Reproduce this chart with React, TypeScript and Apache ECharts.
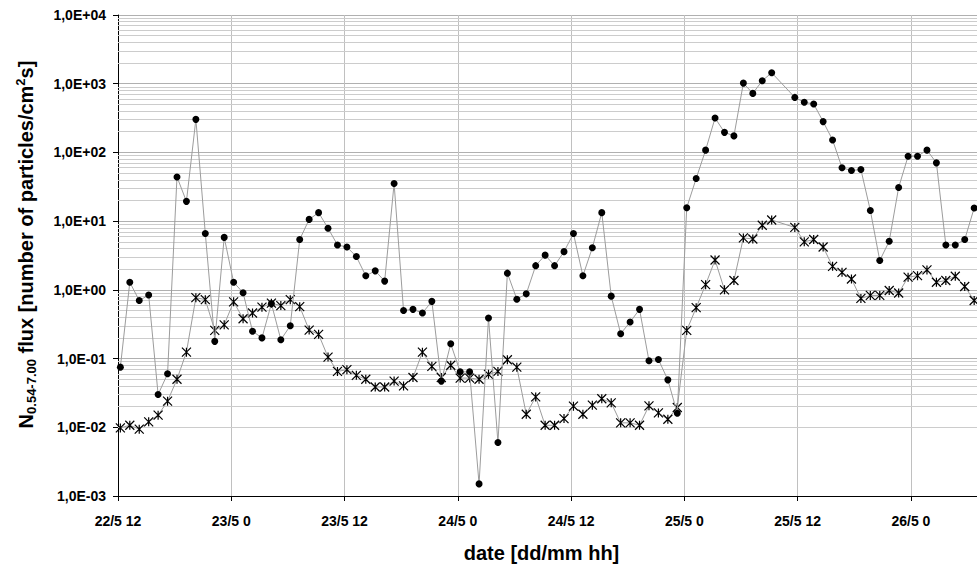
import React, { useEffect, useRef } from "react";
import * as echarts from "echarts";

// Sample times: hourly points in two runs, in hours after 22/5 12:00
const runStartHours = [0.25, 71.7];

// N 0.54-7.00 flux, circle series
const circleRun1 = [
  0.075, 1.29, 0.7, 0.84, 0.03, 0.06, 44, 19.4, 303, 6.6,
  0.178, 5.8, 1.29, 0.91, 0.25, 0.2, 0.63, 0.188, 0.3, 5.4,
  10.6, 13.3, 7.9, 4.5, 4.2, 3.05, 1.6, 1.89, 1.34, 35.3,
  0.5, 0.52, 0.46, 0.68, 0.047, 0.164, 0.064, 0.064, 0.0015, 0.39,
  0.006, 1.75, 0.73, 0.875, 2.25, 3.2, 2.25, 3.6, 6.6, 1.6,
  4.1, 13.3, 0.81, 0.23, 0.34, 0.52, 0.093, 0.097, 0.049, 0.016,
  15.7, 41.8, 108, 317, 196, 174, 1020, 723, 1105, 1444,
];
const circleRun2 = [
  632, 537, 507, 281, 152, 59.7, 54.6, 56.4, 14.3, 2.67,
  5.1, 30.9, 88, 88, 108, 70.5, 4.5, 4.5, 5.4, 15.5,
];

// N 0.54-7.00 flux, star series
const starRun1 = [
  0.0098, 0.0107, 0.0094, 0.012, 0.015, 0.024, 0.05, 0.124, 0.77, 0.72,
  0.257, 0.31, 0.67, 0.38, 0.46, 0.56, 0.64, 0.59, 0.72, 0.57,
  0.26, 0.225, 0.105, 0.065, 0.069, 0.057, 0.05, 0.0386, 0.0386, 0.047,
  0.04, 0.053, 0.124, 0.077, 0.053, 0.08, 0.052, 0.052, 0.05, 0.059,
  0.065, 0.096, 0.075, 0.0155, 0.0277, 0.0107, 0.0107, 0.0134, 0.0203, 0.0155,
  0.021, 0.026, 0.0227, 0.0116, 0.0116, 0.0107, 0.0205, 0.0162, 0.0131, 0.0194,
  0.257, 0.55, 1.19, 2.72, 1.0, 1.37, 5.7, 5.5, 8.7, 10.4,
];
const starRun2 = [
  8.1, 5.0, 5.4, 4.2, 2.2, 1.8, 1.44, 0.75, 0.83, 0.83,
  0.98, 0.9, 1.53, 1.61, 1.95, 1.29, 1.37, 1.58, 1.12, 0.7,
];

const yMin = 0.001;
const yMax = 10000;
const xMaxHours = 91;
const xStepHours = 12;
const minorMultipliers = [2, 3, 4, 5, 6, 7, 8, 9];

const FONT = "'Liberation Sans', Arial, sans-serif";

function toPairs(runs: number[][]): [number, number][] {
  const out: [number, number][] = [];
  runs.forEach((run, r) => {
    run.forEach((v, i) => out.push([runStartHours[r] + i, v]));
  });
  return out;
}

function minorGridValues(): number[] {
  const vals: number[] = [];
  for (let e = Math.log10(yMin); e < Math.log10(yMax); e++) {
    for (const m of minorMultipliers) vals.push(m * Math.pow(10, e));
  }
  return vals;
}

function dateLabel(h: number): string {
  const total = 12 + h;
  const day = 22 + Math.floor(total / 24);
  const hour = total % 24;
  return `${day}/5 ${hour}`;
}

function sciLabel(v: number): string {
  const e = Math.round(Math.log10(v));
  return `1,0E${e < 0 ? "-" : "+"}${String(Math.abs(e)).padStart(2, "0")}`;
}

// asterisk marker: a cross with a vertical stroke through it
const starPath = "path://M0,0L10,10M10,0L0,10M5,0L5,10";

export default function App() {
  const ref = useRef<HTMLDivElement>(null);

  useEffect(() => {
    if (!ref.current) return;
    const chart = echarts.init(ref.current, undefined, { renderer: "svg" });
    const lineColor = "#9c9c9c";

    chart.setOption({
      animation: false,
      backgroundColor: "#ffffff",
      grid: { left: 118, right: -5, top: 15, bottom: 71, containLabel: false },
      xAxis: {
        type: "value",
        min: 0,
        max: xMaxHours,
        interval: xStepHours,
        name: "date [dd/mm hh]",
        nameLocation: "middle",
        nameGap: 47,
        nameTextStyle: {
          fontSize: 20,
          fontWeight: "bold",
          color: "#000",
          fontFamily: FONT,
          padding: [0, 12, 0, 0],
        },
        axisLine: { show: true, lineStyle: { color: "#000", width: 1 } },
        axisTick: { show: true, length: 5, lineStyle: { color: "#000" } },
        axisLabel: {
          fontSize: 14,
          fontWeight: "bold",
          color: "#000",
          fontFamily: FONT,
          margin: 18,
          showMaxLabel: false,
          formatter: (v: number) => (v % xStepHours === 0 ? dateLabel(v) : ""),
        },
        splitLine: { show: true, lineStyle: { color: "#c0c0c0", width: 1 } },
      },
      yAxis: {
        type: "log",
        logBase: 10,
        min: yMin,
        max: yMax,
        name:
          "{b|N}{sub|0.54-7.00}{b| flux [number of particles/cm}{sup|2}{b|s]}",
        nameLocation: "middle",
        nameRotate: 90,
        nameGap: 80,
        nameTextStyle: {
          fontSize: 20,
          fontWeight: "bold",
          color: "#000",
          fontFamily: FONT,
          padding: [0, 0, 0, 22],
          rich: {
            b: { fontSize: 20, fontWeight: "bold", fontFamily: FONT, color: "#000", lineHeight: 24, verticalAlign: "middle" },
            sub: { fontSize: 13, fontWeight: "bold", fontFamily: FONT, color: "#000", lineHeight: 24, verticalAlign: "bottom" },
            sup: { fontSize: 13, fontWeight: "bold", fontFamily: FONT, color: "#000", lineHeight: 24, verticalAlign: "top" },
          },
        },
        axisLine: { show: true, lineStyle: { color: "#000", width: 1 } },
        axisTick: { show: true, length: 5, lineStyle: { color: "#000" } },
        axisLabel: {
          fontSize: 14,
          fontWeight: "bold",
          color: "#000",
          fontFamily: FONT,
          margin: 12,
          formatter: sciLabel,
        },
        splitLine: { show: true, lineStyle: { color: "#b0b0b0", width: 1 } },
      },
      series: [
        {
          // minor logarithmic gridlines, kept beneath the data
          type: "line",
          data: [],
          z: 1,
          silent: true,
          markLine: {
            z: 1,
            silent: true,
            symbol: ["none", "none"],
            label: { show: false },
            lineStyle: { color: "#cccccc", width: 1, type: "solid" },
            emphasis: { disabled: true },
            data: minorGridValues().map((v) => ({ yAxis: v })),
          },
        },
        {
          type: "line",
          name: "stars",
          data: toPairs([starRun1, starRun2]),
          z: 3,
          symbol: starPath,
          symbolSize: 9,
          itemStyle: { color: "none", borderColor: "#000", borderWidth: 1.2 },
          lineStyle: { color: lineColor, width: 1 },
          emphasis: { disabled: true },
        },
        {
          type: "line",
          name: "circles",
          data: toPairs([circleRun1, circleRun2]),
          z: 4,
          symbol: "circle",
          symbolSize: 7,
          itemStyle: { color: "#000", borderWidth: 0 },
          lineStyle: { color: lineColor, width: 1 },
          emphasis: { disabled: true },
        },
      ],
    });

    return () => chart.dispose();
  }, []);

  return (
    <div
      ref={ref}
      style={{ position: "fixed", left: 0, top: 0, width: 977, height: 568, background: "#fff" }}
    />
  );
}
